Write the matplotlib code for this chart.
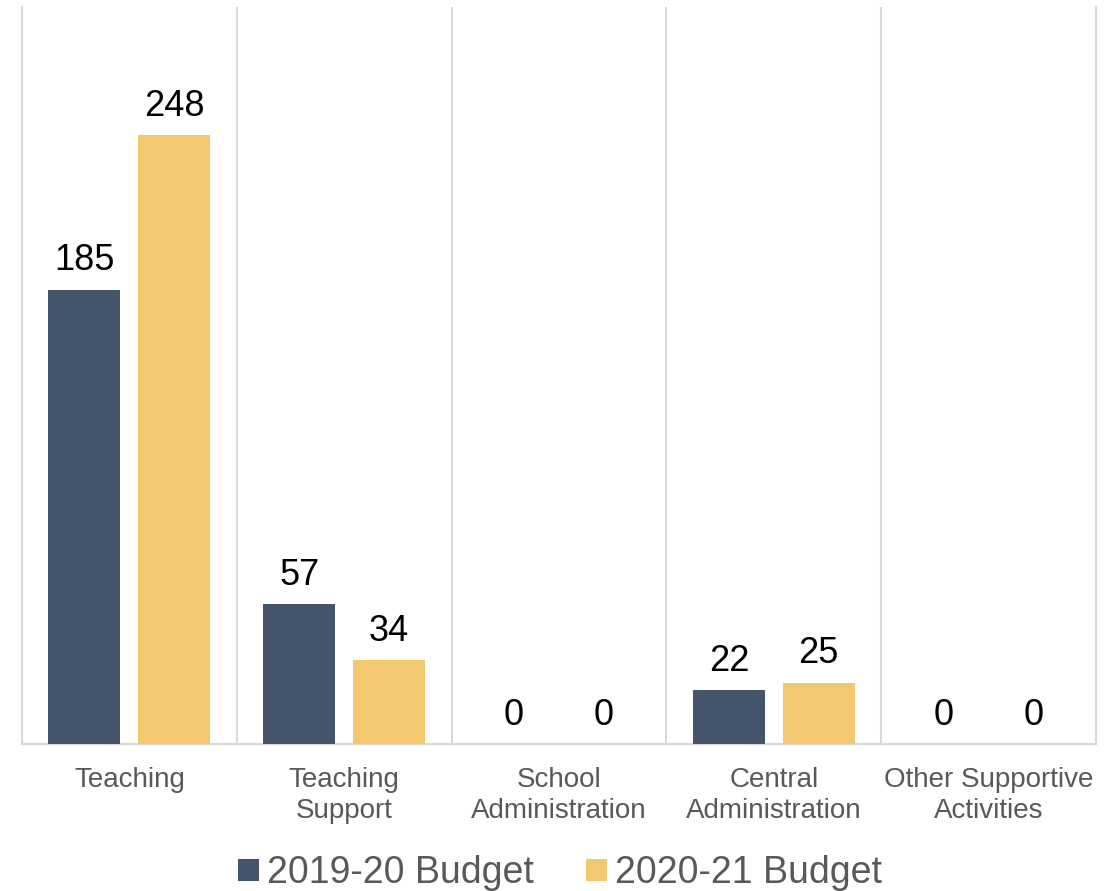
import numpy as np
import matplotlib as mpl
mpl.use('Agg')
import matplotlib.pyplot as plt

plt.rcParams['font.family'] = ['Liberation Sans', 'DejaVu Sans']

categories = ['Teaching', 'Teaching\nSupport', 'School\nAdministration',
              'Central\nAdministration', 'Other Supportive\nActivities']
budget_1920 = [185, 57, 0, 22, 0]
budget_2021 = [248, 34, 0, 25, 0]
series_names = ['2019-20 Budget', '2020-21 Budget']
colors = ['#44546a', '#f2c96f']
grid_col = '#d9d9d9'
text_col = '#595959'

fig = plt.figure(figsize=(11.2, 8.91), dpi=100, facecolor='w')
ax = fig.add_axes([0.0196, 0.165, 0.959, 0.827])

x = np.arange(len(categories))
off = 0.209
w = 0.335
for vals, dx, c, name in zip([budget_1920, budget_2021], [-off, off], colors, series_names):
    bars = ax.bar(x + dx, vals, width=w, color=c, label=name, zorder=3)
    for b, v in zip(bars, vals):
        ax.annotate('{}'.format(v), (b.get_x() + b.get_width() / 2, v),
                    xytext=(0, 8), textcoords='offset points',
                    ha='center', va='bottom', fontsize=26, color='black')

ax.set_xlim(-0.5, len(categories) - 0.5)
ax.set_ylim(0, 300)
ax.set_yticks([])
ax.set_xticks(x)
ax.set_xticklabels(categories, fontsize=20, color=text_col, linespacing=1.25)
ax.tick_params(axis='x', length=0, pad=16.5)

# separators between the category groups
ax.set_xticks(np.arange(-0.5, len(categories)), minor=True)
ax.tick_params(axis='x', which='minor', length=0)
ax.grid(axis='x', which='minor', color=grid_col, linewidth=1.5, zorder=0)

ax.spines['top'].set_visible(False)
for s in ['left', 'right', 'bottom']:
    ax.spines[s].set_color(grid_col)
    ax.spines[s].set_linewidth(1.5)

leg = fig.legend(loc='lower center', bbox_to_anchor=(0.5, -0.038), ncol=2, frameon=False,
                 fontsize=27, handlelength=0.55, handleheight=0.55, handletextpad=0.22,
                 columnspacing=1.4)
for t in leg.get_texts():
    t.set_color(text_col)

plt.savefig('out.png', dpi=100, facecolor='w')
